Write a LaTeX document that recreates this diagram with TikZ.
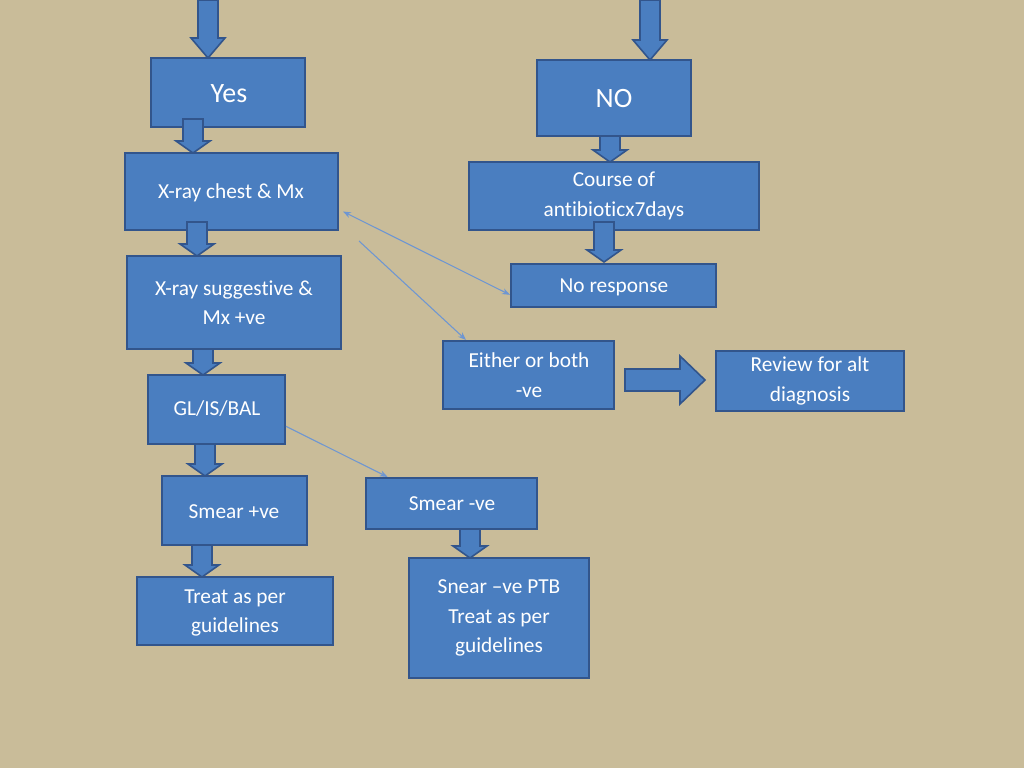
\documentclass[tikz,border=0pt]{standalone}
\usepackage{fontspec}
\setmainfont{Carlito}[Ligatures={NoCommon}]
\usetikzlibrary{arrows.meta}
\definecolor{bg}{RGB}{201,188,153}
\definecolor{bfill}{RGB}{74,126,192}
\definecolor{bline}{RGB}{50,85,140}
\definecolor{thin}{RGB}{110,150,210}
\tikzset{
 box/.style={draw=bline,line width=1.5pt,fill=bfill,text=white,font=\fontsize{16}{22}\selectfont,align=center,inner sep=0pt},
 lbl/.style={text=white,font=\fontsize{16}{22}\selectfont,align=center},
 barrow/.style={draw=bline,line width=1.2pt,fill=bfill},
 thinarr/.style={draw=thin,line width=0.8pt,-{Stealth[length=6pt]}}
}
\newcommand\dnarr[3]{\draw[barrow] ({#1-10},#2) -- ({#1+10},#2) -- ({#1+10},{#3-12}) -- ({#1+17},{#3-12}) -- (#1,#3) -- ({#1-17},{#3-12}) -- ({#1-10},{#3-12}) -- cycle;}
\begin{document}
\begin{tikzpicture}[x=0.75pt,y=-0.75pt]
\fill[bg] (0,0) rectangle (1024,768);
\useasboundingbox (0,0) rectangle (1024,768);
\newcommand\bx[6]{\node[box,minimum width={(#4-#2)*0.75pt},minimum height={(#5-#3)*0.75pt}] (#1) at ({(#2+#4)/2},{(#3+#5)/2}) {#6};}
\bx{yes}{151}{58}{305}{127}{}
\node[text=white,font=\fontsize{21}{24}\selectfont] (yest) at (229,94) {Yes};
\bx{no}{537}{60}{691}{136}{}
\node[text=white,font=\fontsize{21}{24}\selectfont] (not) at (614,99) {NO};
\bx{xr}{125}{153}{338}{230}{}
\node[lbl] (xrt) at (231,193) {X-ray chest \& Mx};
\bx{course}{469}{162}{759}{230}{Course of\\antibioticx7days}
\bx{sugg}{127}{256}{341}{349}{X-ray suggestive \&\\Mx +ve}
\bx{nores}{511}{264}{716}{307}{}
\node[lbl] (nort) at (614,287) {No response};
\bx{either}{443}{341}{614}{409}{}
\node[lbl] (eitt) at (529,375) {Either or both\\-ve};
\bx{review}{716}{351}{904}{411}{Review for alt\\diagnosis}
\bx{gl}{148}{375}{285}{444}{}
\node[lbl] (glt) at (217,409) {GL/IS/BAL};
\bx{smp}{162}{476}{307}{545}{}
\node[lbl] (smpt) at (234,512) {Smear +ve};
\bx{smn}{366}{478}{537}{529}{}
\node[lbl] (smnt) at (452,504) {Smear -ve};
\bx{snear}{409}{558}{589}{678}{}
\node[lbl] (snt) at (499,618) {Snear –ve PTB\\Treat as per\\guidelines};
\bx{treat}{137}{577}{333}{645}{}
\node[lbl] (trt) at (235,613) {Treat as per\\guidelines};
\draw[barrow] (198,0) -- (218,0) -- (218,38) -- (225,38) -- (208,58) -- (191,38) -- (198,38) -- cycle;
\draw[barrow] (640,0) -- (660,0) -- (660,40) -- (667,40) -- (650,60) -- (633,40) -- (640,40) -- cycle;
\dnarr{193}{119}{153}
\dnarr{197}{222}{256}
\dnarr{203}{349}{375}
\dnarr{205}{444}{476}
\dnarr{202}{545}{577}
\dnarr{610}{136}{162}
\dnarr{604}{222}{262}
\dnarr{470}{529}{558}
\draw[barrow] (625,369) -- (680,369) -- (680,356) -- (705,380) -- (680,404) -- (680,391) -- (625,391) -- cycle;
\draw[thinarr,{Stealth[length=6pt]}-{Stealth[length=6pt]}] ([shift={(4,20)}]xr.east) -- ([yshift=-7]nores.west);
\draw[thinarr] ([shift={(17,-14)}]sugg.north east) -- ([xshift=18]either.north west);
\draw[thinarr] ([yshift=14]gl.south east) -- ([xshift=17]smn.north west);
\end{tikzpicture}
\end{document}
